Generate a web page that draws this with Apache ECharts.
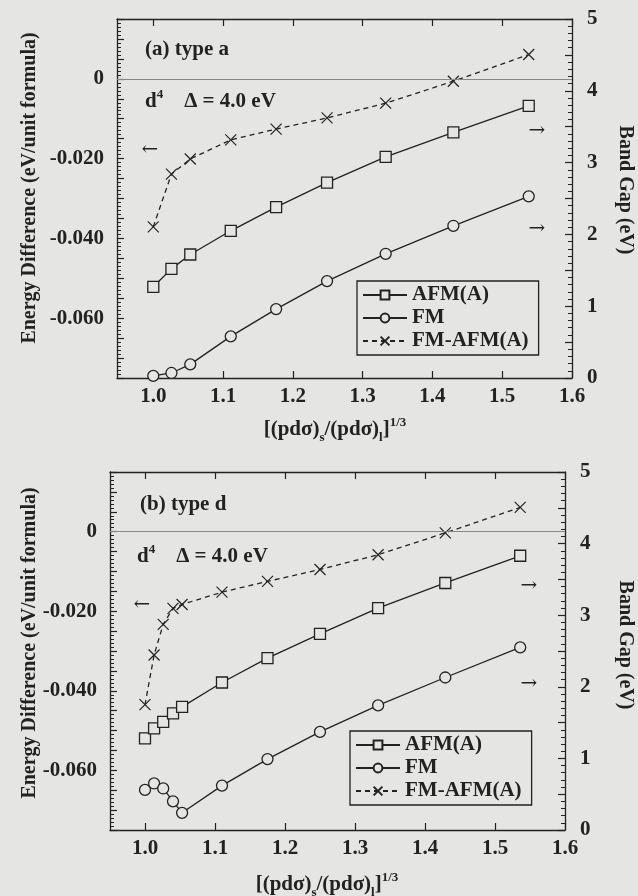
<!DOCTYPE html>
<html>
<head>
<meta charset="utf-8">
<script src="https://cdn.jsdelivr.net/npm/echarts@6/dist/echarts.min.js"></script>
<style>
  html, body { margin: 0; padding: 0; background: #e5e5e3; }
  #main { width: 638px; height: 896px; }
</style>
</head>
<body>
<div id="main"></div>
<script>
// panel (a) type a
var xA = [1.000, 1.026, 1.053, 1.111, 1.176, 1.249, 1.333, 1.430, 1.538];
var afmGapA = [1.27, 1.52, 1.72, 2.05, 2.38, 2.72, 3.08, 3.42, 3.79];
var fmGapA = [0.03, 0.07, 0.19, 0.58, 0.96, 1.35, 1.73, 2.12, 2.53];
var diffA = [-0.0371, -0.0239, -0.0201, -0.0153, -0.0126, -0.0098, -0.0061, -0.0006, 0.0061];

// panel (b) type d
var xB = [1.000, 1.013, 1.026, 1.040, 1.053, 1.110, 1.175, 1.250, 1.333, 1.429, 1.536];
var afmGapB = [1.28, 1.42, 1.51, 1.63, 1.72, 2.06, 2.40, 2.74, 3.10, 3.45, 3.83];
var fmGapB = [0.56, 0.65, 0.58, 0.40, 0.24, 0.62, 0.99, 1.37, 1.74, 2.13, 2.55];
var diffB = [-0.0435, -0.0310, -0.0233, -0.0193, -0.0183, -0.0152, -0.0125, -0.0095, -0.0058, -0.0003, 0.0061];

var xTicks = [1.0, 1.1, 1.2, 1.3, 1.4, 1.5, 1.6];
var seriesNames = ['AFM(A)', 'FM', 'FM-AFM(A)'];

var BG = '#e5e5e3', INK = '#222';
var FONT = '"Liberation Serif", "DejaVu Serif", serif';
var crossPath = 'path://M0,0L10,10M10,0L0,10';

function zip(xs, ys) {
  return xs.map(function (x, i) { return [x, ys[i]]; });
}

var lblStyle = { color: INK, fontFamily: FONT, fontWeight: 'bold', fontSize: 21 };
var axLine = { show: true, onZero: false, lineStyle: { color: INK, width: 1.3 } };

function tick(len) {
  return { show: true, inside: true, length: len, lineStyle: { color: INK, width: 1.2 } };
}

function xAxisPair(gi, min) {
  return [
    {
      type: 'value', gridIndex: gi, min: min, max: 1.6, position: 'bottom',
      axisLine: axLine,
      axisTick: Object.assign(tick(7), { customValues: xTicks }),
      axisLabel: Object.assign({ margin: 8, customValues: xTicks, formatter: function (v) { return v.toFixed(1); } }, lblStyle),
      splitLine: { show: false }
    },
    {
      type: 'value', gridIndex: gi, min: min, max: 1.6, position: 'top',
      axisLine: axLine,
      axisTick: Object.assign(tick(7), { customValues: xTicks }),
      axisLabel: { show: false },
      splitLine: { show: false }
    }
  ];
}

function yAxisPair(gi) {
  return [
    {
      type: 'value', gridIndex: gi, position: 'left', min: -0.075, max: 0.015, interval: 0.005,
      axisLine: axLine,
      axisTick: tick(7),
      minorTick: { show: true, splitNumber: 5, length: 4, lineStyle: { color: INK } },
      axisLabel: Object.assign({
        margin: 13,
        formatter: function (v) {
          var r = Math.round(v * 1000);
          if (r % 20 !== 0 || r > 0) return '';
          return r === 0 ? '0' : (r / 1000).toFixed(3);
        }
      }, lblStyle),
      splitLine: { show: false }
    },
    {
      type: 'value', gridIndex: gi, position: 'right', min: 0, max: 5, interval: 0.5,
      axisLine: axLine,
      axisTick: tick(7),
      minorTick: { show: true, splitNumber: 5, length: 4, lineStyle: { color: INK } },
      axisLabel: Object.assign({
        margin: 15,
        formatter: function (v) { return Math.abs(v - Math.round(v)) < 1e-6 ? String(Math.round(v)) : ''; }
      }, lblStyle),
      splitLine: { show: false }
    }
  ];
}

function panelSeries(gi, xs, afm, fm, diff) {
  var xi = gi * 2, yl = gi * 2, yr = gi * 2 + 1;
  return [
    {
      name: seriesNames[0], type: 'line', xAxisIndex: xi, yAxisIndex: yr,
      data: zip(xs, afm), symbol: 'rect', symbolSize: 11,
      lineStyle: { color: INK, width: 1.3 },
      itemStyle: { color: BG, borderColor: INK, borderWidth: 1.3 }
    },
    {
      name: seriesNames[1], type: 'line', xAxisIndex: xi, yAxisIndex: yr,
      data: zip(xs, fm), symbol: 'circle', symbolSize: 11, clip: false,
      lineStyle: { color: INK, width: 1.3 },
      itemStyle: { color: BG, borderColor: INK, borderWidth: 1.3 }
    },
    {
      name: seriesNames[2], type: 'line', xAxisIndex: xi, yAxisIndex: yl,
      data: zip(xs, diff), symbol: crossPath, symbolSize: 11,
      lineStyle: { color: INK, width: 1.3, type: [5, 4] },
      itemStyle: { color: 'none', borderColor: INK, borderWidth: 1.2 },
      markLine: {
        silent: true, symbol: 'none', label: { show: false },
        lineStyle: { color: '#888', type: 'solid', width: 1.2 },
        data: [{ yAxis: 0 }]
      }
    }
  ];
}

function legendAt(left, top) {
  return {
    data: seriesNames, orient: 'vertical', left: left, top: top,
    selectedMode: false, itemWidth: 44, itemHeight: 11, itemGap: 1,
    padding: [3, 10, 3, 5], borderColor: INK, borderWidth: 1.3, backgroundColor: BG,
    textStyle: { color: INK, fontFamily: FONT, fontWeight: 'bold', fontSize: 21, lineHeight: 22 }
  };
}

function txt(x, y, text, opts) {
  return {
    type: 'text', x: x, y: y, rotation: (opts && opts.rotation) || 0,
    style: Object.assign({
      text: text, fill: INK, fontFamily: FONT, fontWeight: 'bold', fontSize: 21,
      align: 'left', verticalAlign: 'middle'
    }, opts && opts.style)
  };
}

var supRich = {
  sup: { fontFamily: FONT, fontWeight: 'bold', fontSize: 13, verticalAlign: 'top', lineHeight: 13, fill: INK },
  sub: { fontFamily: FONT, fontWeight: 'bold', fontSize: 13, verticalAlign: 'bottom', lineHeight: 13, fill: INK },
  m: { fontFamily: FONT, fontWeight: 'bold', fontSize: 21, lineHeight: 28, fill: INK }
};

var xTitle = '{m|[(pdσ)}{sub|s}{m|/(pdσ)}{sub|l}{m|]}{sup|1/3}';
var dTitle = '{m|d}{sup|4}{m|    Δ = 4.0 eV}';

var arrowStyle = { align: 'center', fontWeight: 'normal', fontFamily: '"DejaVu Serif", serif', fontSize: 20 };

function panelText(dy, dx) {
  return [
    txt(30, 188 + dy, 'Energy Difference (eV/unit formula)', { rotation: Math.PI / 2, style: { align: 'center', fontSize: 20 } }),
    txt(625, 190 + dy, 'Band Gap (eV)', { rotation: -Math.PI / 2, style: { align: 'center', fontSize: 20 } }),
    txt(335 - dx, 430 + dy, xTitle, { style: { align: 'center', rich: supRich } }),
    txt(145 - dx, 102 + dy, dTitle, { style: { rich: supRich } }),
    txt(150 - dx, 150 + dy, '←', { style: arrowStyle }),
    txt(537 - dx, 131 + dy, '→', { style: arrowStyle }),
    txt(537 - dx, 229 + dy, '→', { style: arrowStyle })
  ];
}

var chart = echarts.init(document.getElementById('main'));

var option = {
  backgroundColor: BG,
  animation: false,
  grid: [
    { left: 117, top: 19, width: 455, height: 359 },
    { left: 110, top: 472, width: 455, height: 358 }
  ],
  xAxis: xAxisPair(0, 0.948).concat(xAxisPair(1, 0.95)),
  yAxis: yAxisPair(0).concat(yAxisPair(1)),
  legend: [legendAt(357, 281), legendAt(350, 731)],
  series: panelSeries(0, xA, afmGapA, fmGapA, diffA).concat(panelSeries(1, xB, afmGapB, fmGapB, diffB)),
  graphic: panelText(0, 0)
    .concat(panelText(455, 8))
    .concat([
      txt(145, 50, '(a) type a'),
      txt(140, 505, '(b) type d')
    ])
};

chart.setOption(option);
</script>
</body>
</html>
